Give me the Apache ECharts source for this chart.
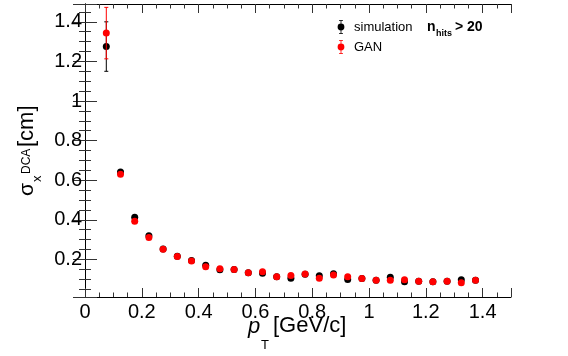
<!DOCTYPE html>
<html>
<head>
<meta charset="utf-8">
<script src="https://cdn.jsdelivr.net/npm/echarts@6/dist/echarts.min.js"></script>
<style>
html,body{margin:0;padding:0;background:#fff;}
#chart{width:568px;height:356px;}
</style>
</head>
<body>
<div id="chart"></div>
<script>
// ---- data ----
var ptBins = [0.075, 0.125, 0.175, 0.225, 0.275, 0.325, 0.375, 0.425, 0.475, 0.525,
              0.575, 0.625, 0.675, 0.725, 0.775, 0.825, 0.875, 0.925, 0.975, 1.025,
              1.075, 1.125, 1.175, 1.225, 1.275, 1.325, 1.375];
var simSigma = [1.275, 0.642, 0.413, 0.320, 0.252, 0.216, 0.194, 0.170, 0.148, 0.149,
                0.133, 0.130, 0.112, 0.105, 0.125, 0.117, 0.128, 0.099, 0.104, 0.095,
                0.110, 0.087, 0.089, 0.087, 0.090, 0.097, 0.095];
var simErr   = [0.125, 0.006, 0.004, 0.004, 0.003, 0.003, 0.003, 0.003, 0.003, 0.003,
                0.003, 0.003, 0.003, 0.003, 0.003, 0.003, 0.003, 0.003, 0.003, 0.003,
                0.003, 0.003, 0.003, 0.003, 0.003, 0.003, 0.003];
var ganSigma = [1.343, 0.630, 0.392, 0.311, 0.251, 0.215, 0.192, 0.163, 0.153, 0.149,
                0.133, 0.138, 0.112, 0.119, 0.126, 0.105, 0.121, 0.112, 0.104, 0.095,
                0.095, 0.097, 0.089, 0.087, 0.090, 0.082, 0.095];
var ganErr   = [0.130, 0.006, 0.004, 0.004, 0.003, 0.003, 0.003, 0.003, 0.003, 0.003,
                0.003, 0.003, 0.003, 0.003, 0.003, 0.003, 0.003, 0.003, 0.003, 0.003,
                0.003, 0.003, 0.003, 0.003, 0.003, 0.003, 0.003];
var seriesNames = ['simulation', 'GAN'];
var xRange = [0, 1.5];
var yRange = [0.01, 1.49];

var FONT = '"Liberation Sans", Arial, Helvetica, sans-serif';

function pts(y) { return ptBins.map(function (p, i) { return [p, y[i]]; }); }
function errPts(y, e) { return ptBins.map(function (p, i) { return [p, y[i], e[i]]; }); }

function errRender(color) {
  return function (params, api) {
    var x = api.value(0), y = api.value(1), e = api.value(2);
    var t = api.coord([x, y + e]);
    var b = api.coord([x, y - e]);
    var c = 2;
    var st = { stroke: color, lineWidth: 1 };
    return {
      type: 'group',
      children: [
        { type: 'line', shape: { x1: t[0], y1: t[1], x2: b[0], y2: b[1] }, style: st },
        { type: 'line', shape: { x1: t[0] - c, y1: t[1], x2: t[0] + c, y2: t[1] }, style: st },
        { type: 'line', shape: { x1: b[0] - c, y1: b[1], x2: b[0] + c, y2: b[1] }, style: st }
      ]
    };
  };
}

var legendIcon = 'path://M0,7h0.01v0.01h-0.01z M15.99,7h0.01v0.01h-0.01z ' +
  'M6,0h4v0.8h-4z M6,13.2h4v0.8h-4z M7.6,0.8h0.8v2.8h-0.8z M7.6,10.4h0.8v2.8h-0.8z ' +
  'M4.6,7a3.4,3.4 0 1,0 6.8,0a3.4,3.4 0 1,0 -6.8,0z';

var frame = { show: true, lineStyle: { color: '#000', width: 1 } };
var noLine = { show: false };
var tickCol = '#333';

function xAx(pos, major, showLine, showLabel) {
  return {
    type: 'value', position: pos, min: xRange[0], max: xRange[1],
    interval: major ? 0.2 : 0.05,
    axisLine: showLine ? frame : noLine,
    axisTick: { show: true, inside: true, length: major ? 9 : 4.5, lineStyle: { color: tickCol } },
    axisLabel: showLabel ? {
      show: true, fontSize: 20, fontFamily: FONT, color: '#000', margin: 5,
      formatter: function (v) { return v > 1.45 ? '' : String(Math.round(v * 10) / 10); }
    } : { show: false },
    splitLine: { show: false }
  };
}
function yAx(pos, major, showLine, showLabel) {
  var step = major ? 0.2 : 0.05;
  return {
    type: 'value', position: pos, min: yRange[0], max: yRange[1],
    minInterval: step, maxInterval: step, splitNumber: major ? 7 : 30,
    axisLine: showLine ? frame : noLine,
    axisTick: { show: true, inside: true, length: major ? 12 : 6, lineStyle: { color: tickCol } },
    axisLabel: showLabel ? {
      show: true, fontSize: 20, fontFamily: FONT, color: '#000', margin: 3,
      formatter: function (v) {
        var k = v * 5;
        if (Math.abs(k - Math.round(k)) > 1e-6) return '';
        return String(Math.round(v * 10) / 10);
      }
    } : { show: false },
    splitLine: { show: false }
  };
}

var chart = echarts.init(document.getElementById('chart'), null, { renderer: 'canvas' });
chart.setOption({
  animation: false,
  backgroundColor: '#fff',
  grid: { left: 85, right: 57, top: 4, bottom: 59, containLabel: false },
  xAxis: [xAx('bottom', true, true, true), xAx('bottom', false, false, false),
          xAx('top', true, true, false), xAx('top', false, false, false)],
  yAxis: [yAx('left', true, true, true), yAx('left', false, false, false),
          yAx('right', true, true, false), yAx('right', false, false, false)],
  legend: {
    orient: 'vertical', left: 333, top: 20, padding: 0,
    itemWidth: 16, itemHeight: 14, itemGap: 6,
    textStyle: { fontSize: 13, fontFamily: FONT, color: '#000' },
    data: [{ name: seriesNames[0], icon: legendIcon }, { name: seriesNames[1], icon: legendIcon }]
  },
  series: [
    { name: 'simErr', type: 'custom', renderItem: errRender('#000'), data: errPts(simSigma, simErr), z: 2 },
    { name: seriesNames[0], type: 'scatter', symbol: 'circle', symbolSize: 7,
      itemStyle: { color: '#000', opacity: 1 }, data: pts(simSigma), z: 3 },
    { name: 'ganErr', type: 'custom', renderItem: errRender('#f00'), data: errPts(ganSigma, ganErr), z: 4 },
    { name: seriesNames[1], type: 'scatter', symbol: 'circle', symbolSize: 7,
      itemStyle: { color: '#f00', opacity: 1 }, data: pts(ganSigma), z: 5 }
  ],
  graphic: [
    // x-axis title
    { type: 'text', x: 248, y: 326.4, style: { text: 'p', font: 'italic 22px ' + FONT, fill: '#000', verticalAlign: 'middle' } },
    { type: 'text', x: 261, y: 345, style: { text: 'T', font: '13px ' + FONT, fill: '#000', verticalAlign: 'middle' } },
    { type: 'text', x: 273, y: 326.4, style: { text: '[GeV/c]', font: '22px ' + FONT, fill: '#000', verticalAlign: 'middle' } },
    // y-axis title (rotated)
    { type: 'text', x: 27.7, y: 196, rotation: Math.PI / 2, style: { text: 'σ', font: '21px ' + FONT, fill: '#000', verticalAlign: 'middle' } },
    { type: 'text', x: 37.2, y: 182, rotation: Math.PI / 2, style: { text: 'x', font: '13px ' + FONT, fill: '#000', verticalAlign: 'middle' } },
    { type: 'text', x: 26.5, y: 174, rotation: Math.PI / 2, style: { text: 'DCA', font: '12px ' + FONT, fill: '#000', verticalAlign: 'middle' } },
    { type: 'text', x: 27.4, y: 147, rotation: Math.PI / 2, style: { text: '[cm]', font: '22px ' + FONT, fill: '#000', verticalAlign: 'middle' } },
    // n_hits > 20
    { type: 'text', x: 427, y: 27, style: { text: 'n', font: 'bold 14px ' + FONT, fill: '#000', verticalAlign: 'middle' } },
    { type: 'text', x: 436, y: 33.5, style: { text: 'hits', font: 'bold 9px ' + FONT, fill: '#000', verticalAlign: 'middle' } },
    { type: 'text', x: 455, y: 27, style: { text: '> 20', font: 'bold 14px ' + FONT, fill: '#000', verticalAlign: 'middle' } }
  ]
});
</script>
</body>
</html>
